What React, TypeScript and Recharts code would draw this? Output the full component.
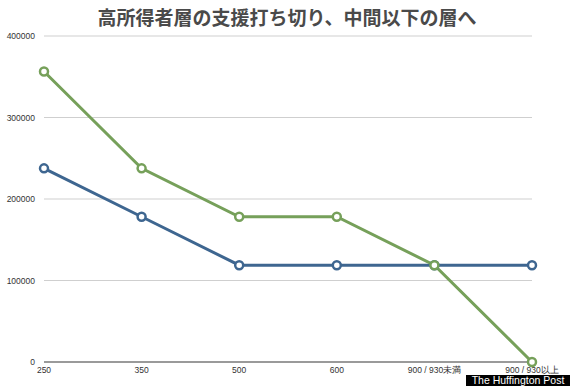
import React from "react";
import { LineChart, Line, XAxis, YAxis, CartesianGrid } from "recharts";

// 年収区分（万円）
const incomeBands = ["250", "350", "500", "600", "900 / 930未満", "900 / 930以上"];
const currentSupport = [237600, 178200, 118800, 118800, 118800, 118800];
const revisedSupport = [356400, 237600, 178200, 178200, 118800, 0];
const yTicks = [0, 100000, 200000, 300000, 400000];

const data = incomeBands.map((band, i) => ({
  band,
  current: currentSupport[i],
  revised: revisedSupport[i],
}));

const tickStyle = { fill: "#333", fontSize: 8.5, fontFamily: "Liberation Sans, Arial, sans-serif" };

export default function App() {
  return (
    <div style={{ position: "fixed", left: 0, top: 0, width: 570, height: 386, background: "#fff", overflow: "hidden" }}>
      <div
        style={{
          position: "absolute",
          top: 5,
          left: 0,
          width: 574,
          textAlign: "center",
          fontFamily: "'Noto Sans CJK JP', sans-serif",
          fontWeight: 700,
          fontSize: 19,
          color: "#4a4a4a",
          lineHeight: "24px",
        }}
      >
        高所得者層の支援打ち切り、中間以下の層へ
      </div>
      <LineChart width={570} height={386} data={data} margin={{ top: 36, right: 38, bottom: 0, left: 0 }}>
        <CartesianGrid vertical={false} stroke="#cfcfcf" />
        <XAxis
          dataKey="band"
          height={24}
          tick={tickStyle}
          tickLine={false}
          tickSize={0}
          tickMargin={5}
          axisLine={{ stroke: "#9a9a9a", strokeWidth: 2 }}
          interval={0}
        />
        <YAxis
          width={44}
          domain={[0, 400000]}
          ticks={yTicks}
          tick={tickStyle}
          tickLine={false}
          axisLine={false}
          tickSize={0}
          tickMargin={9}
        />
        <Line
          type="linear"
          dataKey="current"
          stroke="#3e6690"
          strokeWidth={3}
          dot={{ r: 4, fill: "#fff", stroke: "#3e6690", strokeWidth: 2.5 }}
          isAnimationActive={false}
        />
        <Line
          type="linear"
          dataKey="revised"
          stroke="#76a05a"
          strokeWidth={3}
          dot={{ r: 4, fill: "#fff", stroke: "#76a05a", strokeWidth: 2.5 }}
          isAnimationActive={false}
        />
      </LineChart>
      <div
        style={{
          position: "absolute",
          left: 466,
          top: 375,
          width: 104,
          height: 11,
          background: "#000",
          color: "#fff",
          fontFamily: "Liberation Sans, Arial, sans-serif",
          fontSize: 10.5,
          lineHeight: "11px",
          textAlign: "center",
        }}
      >
        The Huffington Post
      </div>
    </div>
  );
}
